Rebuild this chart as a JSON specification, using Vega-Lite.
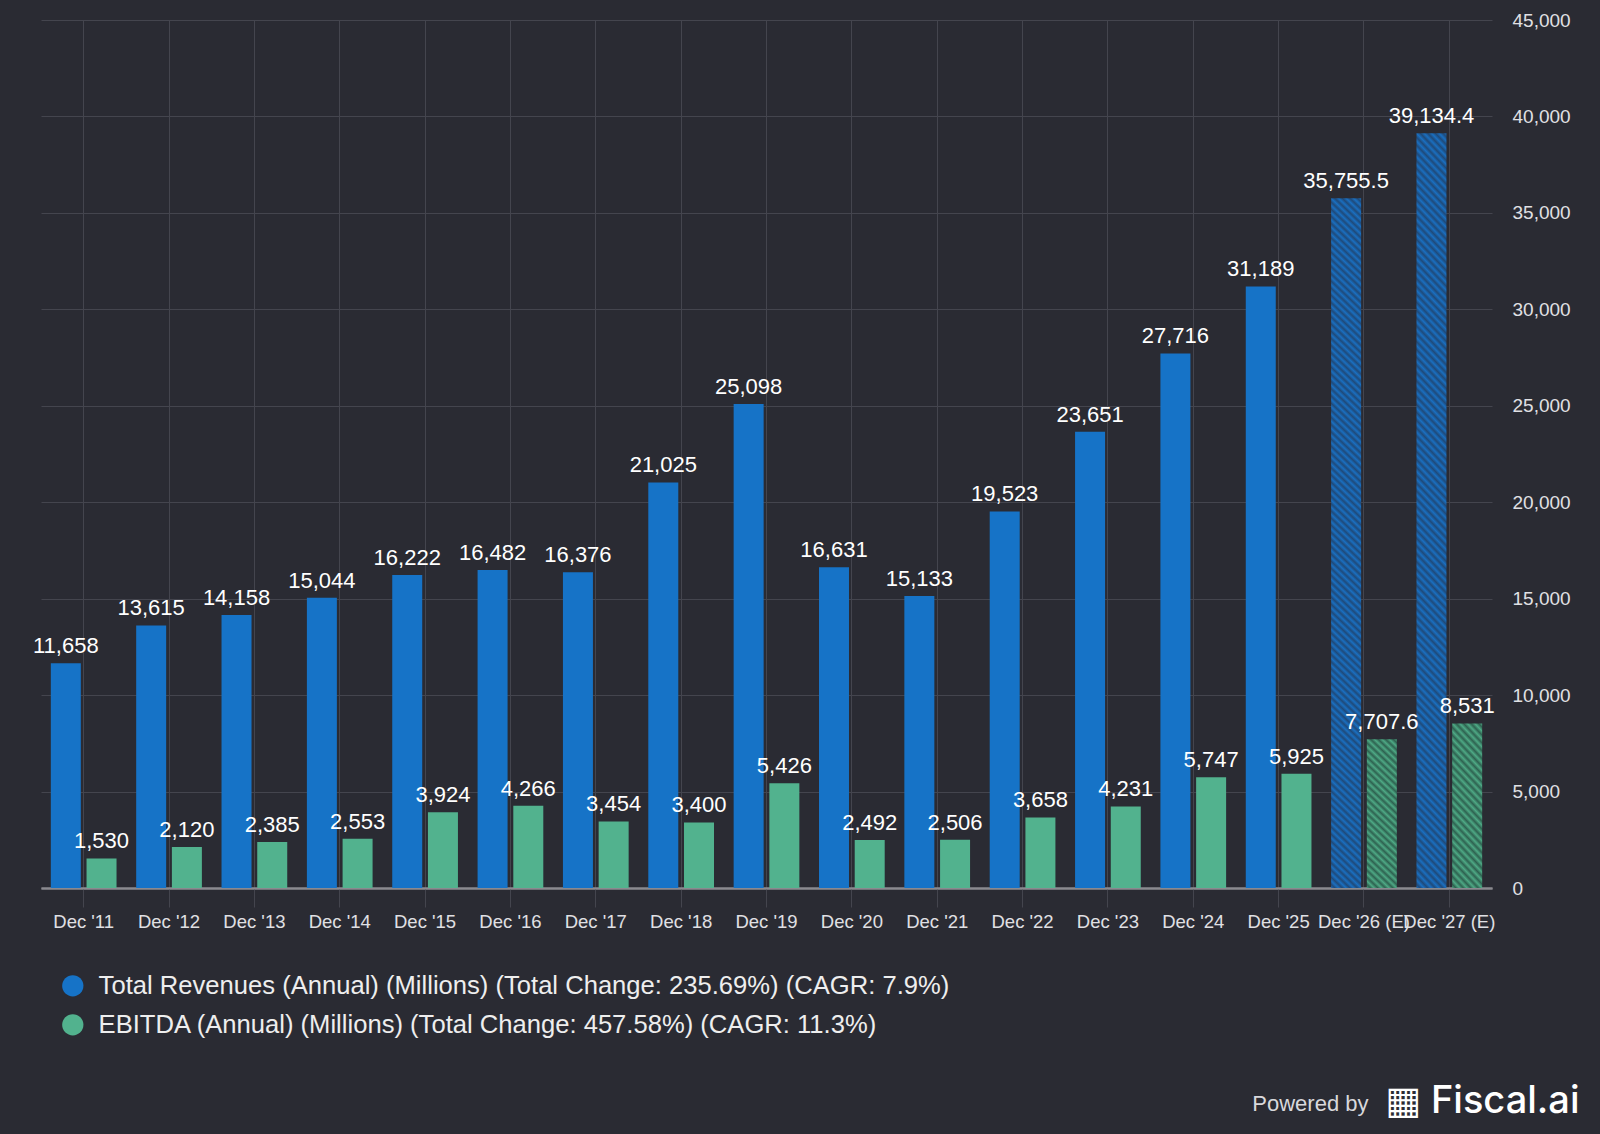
{
  "$schema": "https://vega.github.io/schema/vega-lite/v6.json",
  "width": 1451,
  "height": 868,
  "autosize": {"type": "none"},
  "padding": {"left": 41, "top": 20, "right": 108, "bottom": 246},
  "background": "#2a2b33",
  "config": {"view": {"stroke": null}, "font": "Liberation Sans"},
  "data": {
    "values": [
      {"period": "Dec '11", "series": "rev", "value": 11658, "estimate": false},
      {"period": "Dec '11", "series": "eb", "value": 1530, "estimate": false},
      {"period": "Dec '12", "series": "rev", "value": 13615, "estimate": false},
      {"period": "Dec '12", "series": "eb", "value": 2120, "estimate": false},
      {"period": "Dec '13", "series": "rev", "value": 14158, "estimate": false},
      {"period": "Dec '13", "series": "eb", "value": 2385, "estimate": false},
      {"period": "Dec '14", "series": "rev", "value": 15044, "estimate": false},
      {"period": "Dec '14", "series": "eb", "value": 2553, "estimate": false},
      {"period": "Dec '15", "series": "rev", "value": 16222, "estimate": false},
      {"period": "Dec '15", "series": "eb", "value": 3924, "estimate": false},
      {"period": "Dec '16", "series": "rev", "value": 16482, "estimate": false},
      {"period": "Dec '16", "series": "eb", "value": 4266, "estimate": false},
      {"period": "Dec '17", "series": "rev", "value": 16376, "estimate": false},
      {"period": "Dec '17", "series": "eb", "value": 3454, "estimate": false},
      {"period": "Dec '18", "series": "rev", "value": 21025, "estimate": false},
      {"period": "Dec '18", "series": "eb", "value": 3400, "estimate": false},
      {"period": "Dec '19", "series": "rev", "value": 25098, "estimate": false},
      {"period": "Dec '19", "series": "eb", "value": 5426, "estimate": false},
      {"period": "Dec '20", "series": "rev", "value": 16631, "estimate": false},
      {"period": "Dec '20", "series": "eb", "value": 2492, "estimate": false},
      {"period": "Dec '21", "series": "rev", "value": 15133, "estimate": false},
      {"period": "Dec '21", "series": "eb", "value": 2506, "estimate": false},
      {"period": "Dec '22", "series": "rev", "value": 19523, "estimate": false},
      {"period": "Dec '22", "series": "eb", "value": 3658, "estimate": false},
      {"period": "Dec '23", "series": "rev", "value": 23651, "estimate": false},
      {"period": "Dec '23", "series": "eb", "value": 4231, "estimate": false},
      {"period": "Dec '24", "series": "rev", "value": 27716, "estimate": false},
      {"period": "Dec '24", "series": "eb", "value": 5747, "estimate": false},
      {"period": "Dec '25", "series": "rev", "value": 31189, "estimate": false},
      {"period": "Dec '25", "series": "eb", "value": 5925, "estimate": false},
      {"period": "Dec '26 (E)", "series": "rev", "value": 35755.5, "estimate": true},
      {"period": "Dec '26 (E)", "series": "eb", "value": 7707.6, "estimate": true},
      {"period": "Dec '27 (E)", "series": "rev", "value": 39134.4, "estimate": true},
      {"period": "Dec '27 (E)", "series": "eb", "value": 8531, "estimate": true}
    ]
  },
  "encoding": {
    "x": {
      "field": "period",
      "type": "nominal",
      "sort": null,
      "scale": {"paddingInner": 0, "paddingOuter": 0},
      "axis": {
        "title": "▦ Fiscal.ai",
        "titleX": 1538,
        "titleY": 224,
        "titleAlign": "right",
        "titleBaseline": "alphabetic",
        "titleAngle": 0,
        "titleFont": "Inter, DejaVu Sans",
        "titleFontSize": 38,
        "titleFontWeight": 500,
        "titleColor": "#ffffff",
        "labelAngle": 0,
        "labelFontSize": 18.5,
        "labelColor": "#e0e0e4",
        "labelPadding": 5,
        "labelOverlap": false,
        "labelBound": false,
        "labelFlush": false,
        "labelLimit": 400,
        "grid": true,
        "gridColor": "#44454e",
        "gridWidth": 1,
        "ticks": true,
        "tickSize": 19,
        "tickColor": "#44454e",
        "domain": true,
        "domainColor": "#8a8a90",
        "domainWidth": 2,
        "bandPosition": 0.5
      }
    },
    "xOffset": {
      "field": "series",
      "type": "nominal",
      "sort": ["rev", "eb"],
      "scale": {"domain": ["rev", "eb"], "paddingInner": 0.16, "paddingOuter": 0.275}
    },
    "y": {
      "field": "value",
      "type": "quantitative",
      "scale": {"domain": [0, 45000], "nice": false, "zero": true},
      "axis": {
        "orient": "right",
        "values": [0, 5000, 10000, 15000, 20000, 25000, 30000, 35000, 40000, 45000],
        "format": ",.0f",
        "grid": true,
        "gridColor": {"condition": {"test": "datum.value === 0", "value": "#8a8a90"}, "value": "#44454e"},
        "gridWidth": {"condition": {"test": "datum.value === 0", "value": 2}, "value": 1},
        "domain": false,
        "ticks": false,
        "labelAlign": "left",
        "labelBaseline": "middle",
        "labelPadding": 20,
        "labelFontSize": 19,
        "labelColor": "#e0e0e4",
        "title": "Powered by",
        "titleAngle": 0,
        "titleX": -124,
        "titleY": 1090,
        "titleAlign": "right",
        "titleBaseline": "alphabetic",
        "titleFont": "Liberation Sans",
        "titleFontSize": 22,
        "titleFontWeight": "normal",
        "titleColor": "#d8d8dc"
      }
    }
  },
  "layer": [
    {
      "mark": {"type": "bar"},
      "encoding": {
        "color": {
          "condition": [
            {
              "test": "datum.estimate && datum.series === 'rev'",
              "value": {
                "gradient": "linear", "x1": 0, "y1": 1, "x2": 0.04319, "y2": -0.03975,
                "stops": [
                  {"offset":0,"color":"#1a6fc0"},{"offset":0.005,"color":"#1f4a7a"},{"offset":0.01,"color":"#1a6fc0"},{"offset":0.015,"color":"#1f4a7a"},{"offset":0.02,"color":"#1a6fc0"},{"offset":0.025,"color":"#1f4a7a"},{"offset":0.03,"color":"#1a6fc0"},{"offset":0.035,"color":"#1f4a7a"},{"offset":0.04,"color":"#1a6fc0"},{"offset":0.045,"color":"#1f4a7a"},
                  {"offset":0.05,"color":"#1a6fc0"},{"offset":0.055,"color":"#1f4a7a"},{"offset":0.06,"color":"#1a6fc0"},{"offset":0.065,"color":"#1f4a7a"},{"offset":0.07,"color":"#1a6fc0"},{"offset":0.075,"color":"#1f4a7a"},{"offset":0.08,"color":"#1a6fc0"},{"offset":0.085,"color":"#1f4a7a"},{"offset":0.09,"color":"#1a6fc0"},{"offset":0.095,"color":"#1f4a7a"},
                  {"offset":0.1,"color":"#1a6fc0"},{"offset":0.105,"color":"#1f4a7a"},{"offset":0.11,"color":"#1a6fc0"},{"offset":0.115,"color":"#1f4a7a"},{"offset":0.12,"color":"#1a6fc0"},{"offset":0.125,"color":"#1f4a7a"},{"offset":0.13,"color":"#1a6fc0"},{"offset":0.135,"color":"#1f4a7a"},{"offset":0.14,"color":"#1a6fc0"},{"offset":0.145,"color":"#1f4a7a"},
                  {"offset":0.15,"color":"#1a6fc0"},{"offset":0.155,"color":"#1f4a7a"},{"offset":0.16,"color":"#1a6fc0"},{"offset":0.165,"color":"#1f4a7a"},{"offset":0.17,"color":"#1a6fc0"},{"offset":0.175,"color":"#1f4a7a"},{"offset":0.18,"color":"#1a6fc0"},{"offset":0.185,"color":"#1f4a7a"},{"offset":0.19,"color":"#1a6fc0"},{"offset":0.195,"color":"#1f4a7a"},
                  {"offset":0.2,"color":"#1a6fc0"},{"offset":0.205,"color":"#1f4a7a"},{"offset":0.21,"color":"#1a6fc0"},{"offset":0.215,"color":"#1f4a7a"},{"offset":0.22,"color":"#1a6fc0"},{"offset":0.225,"color":"#1f4a7a"},{"offset":0.23,"color":"#1a6fc0"},{"offset":0.235,"color":"#1f4a7a"},{"offset":0.24,"color":"#1a6fc0"},{"offset":0.245,"color":"#1f4a7a"},
                  {"offset":0.25,"color":"#1a6fc0"},{"offset":0.255,"color":"#1f4a7a"},{"offset":0.26,"color":"#1a6fc0"},{"offset":0.265,"color":"#1f4a7a"},{"offset":0.27,"color":"#1a6fc0"},{"offset":0.275,"color":"#1f4a7a"},{"offset":0.28,"color":"#1a6fc0"},{"offset":0.285,"color":"#1f4a7a"},{"offset":0.29,"color":"#1a6fc0"},{"offset":0.295,"color":"#1f4a7a"},
                  {"offset":0.3,"color":"#1a6fc0"},{"offset":0.305,"color":"#1f4a7a"},{"offset":0.31,"color":"#1a6fc0"},{"offset":0.315,"color":"#1f4a7a"},{"offset":0.32,"color":"#1a6fc0"},{"offset":0.325,"color":"#1f4a7a"},{"offset":0.33,"color":"#1a6fc0"},{"offset":0.335,"color":"#1f4a7a"},{"offset":0.34,"color":"#1a6fc0"},{"offset":0.345,"color":"#1f4a7a"},
                  {"offset":0.35,"color":"#1a6fc0"},{"offset":0.355,"color":"#1f4a7a"},{"offset":0.36,"color":"#1a6fc0"},{"offset":0.365,"color":"#1f4a7a"},{"offset":0.37,"color":"#1a6fc0"},{"offset":0.375,"color":"#1f4a7a"},{"offset":0.38,"color":"#1a6fc0"},{"offset":0.385,"color":"#1f4a7a"},{"offset":0.39,"color":"#1a6fc0"},{"offset":0.395,"color":"#1f4a7a"},
                  {"offset":0.4,"color":"#1a6fc0"},{"offset":0.405,"color":"#1f4a7a"},{"offset":0.41,"color":"#1a6fc0"},{"offset":0.415,"color":"#1f4a7a"},{"offset":0.42,"color":"#1a6fc0"},{"offset":0.425,"color":"#1f4a7a"},{"offset":0.43,"color":"#1a6fc0"},{"offset":0.435,"color":"#1f4a7a"},{"offset":0.44,"color":"#1a6fc0"},{"offset":0.445,"color":"#1f4a7a"},
                  {"offset":0.45,"color":"#1a6fc0"},{"offset":0.455,"color":"#1f4a7a"},{"offset":0.46,"color":"#1a6fc0"},{"offset":0.465,"color":"#1f4a7a"},{"offset":0.47,"color":"#1a6fc0"},{"offset":0.475,"color":"#1f4a7a"},{"offset":0.48,"color":"#1a6fc0"},{"offset":0.485,"color":"#1f4a7a"},{"offset":0.49,"color":"#1a6fc0"},{"offset":0.495,"color":"#1f4a7a"},
                  {"offset":0.5,"color":"#1a6fc0"},{"offset":0.505,"color":"#1f4a7a"},{"offset":0.51,"color":"#1a6fc0"},{"offset":0.515,"color":"#1f4a7a"},{"offset":0.52,"color":"#1a6fc0"},{"offset":0.525,"color":"#1f4a7a"},{"offset":0.53,"color":"#1a6fc0"},{"offset":0.535,"color":"#1f4a7a"},{"offset":0.54,"color":"#1a6fc0"},{"offset":0.545,"color":"#1f4a7a"},
                  {"offset":0.55,"color":"#1a6fc0"},{"offset":0.555,"color":"#1f4a7a"},{"offset":0.56,"color":"#1a6fc0"},{"offset":0.565,"color":"#1f4a7a"},{"offset":0.57,"color":"#1a6fc0"},{"offset":0.575,"color":"#1f4a7a"},{"offset":0.58,"color":"#1a6fc0"},{"offset":0.585,"color":"#1f4a7a"},{"offset":0.59,"color":"#1a6fc0"},{"offset":0.595,"color":"#1f4a7a"},
                  {"offset":0.6,"color":"#1a6fc0"},{"offset":0.605,"color":"#1f4a7a"},{"offset":0.61,"color":"#1a6fc0"},{"offset":0.615,"color":"#1f4a7a"},{"offset":0.62,"color":"#1a6fc0"},{"offset":0.625,"color":"#1f4a7a"},{"offset":0.63,"color":"#1a6fc0"},{"offset":0.635,"color":"#1f4a7a"},{"offset":0.64,"color":"#1a6fc0"},{"offset":0.645,"color":"#1f4a7a"},
                  {"offset":0.65,"color":"#1a6fc0"},{"offset":0.655,"color":"#1f4a7a"},{"offset":0.66,"color":"#1a6fc0"},{"offset":0.665,"color":"#1f4a7a"},{"offset":0.67,"color":"#1a6fc0"},{"offset":0.675,"color":"#1f4a7a"},{"offset":0.68,"color":"#1a6fc0"},{"offset":0.685,"color":"#1f4a7a"},{"offset":0.69,"color":"#1a6fc0"},{"offset":0.695,"color":"#1f4a7a"},
                  {"offset":0.7,"color":"#1a6fc0"},{"offset":0.705,"color":"#1f4a7a"},{"offset":0.71,"color":"#1a6fc0"},{"offset":0.715,"color":"#1f4a7a"},{"offset":0.72,"color":"#1a6fc0"},{"offset":0.725,"color":"#1f4a7a"},{"offset":0.73,"color":"#1a6fc0"},{"offset":0.735,"color":"#1f4a7a"},{"offset":0.74,"color":"#1a6fc0"},{"offset":0.745,"color":"#1f4a7a"},
                  {"offset":0.75,"color":"#1a6fc0"},{"offset":0.755,"color":"#1f4a7a"},{"offset":0.76,"color":"#1a6fc0"},{"offset":0.765,"color":"#1f4a7a"},{"offset":0.77,"color":"#1a6fc0"},{"offset":0.775,"color":"#1f4a7a"},{"offset":0.78,"color":"#1a6fc0"},{"offset":0.785,"color":"#1f4a7a"},{"offset":0.79,"color":"#1a6fc0"},{"offset":0.795,"color":"#1f4a7a"},
                  {"offset":0.8,"color":"#1a6fc0"},{"offset":0.805,"color":"#1f4a7a"},{"offset":0.81,"color":"#1a6fc0"},{"offset":0.815,"color":"#1f4a7a"},{"offset":0.82,"color":"#1a6fc0"},{"offset":0.825,"color":"#1f4a7a"},{"offset":0.83,"color":"#1a6fc0"},{"offset":0.835,"color":"#1f4a7a"},{"offset":0.84,"color":"#1a6fc0"},{"offset":0.845,"color":"#1f4a7a"},
                  {"offset":0.85,"color":"#1a6fc0"},{"offset":0.855,"color":"#1f4a7a"},{"offset":0.86,"color":"#1a6fc0"},{"offset":0.865,"color":"#1f4a7a"},{"offset":0.87,"color":"#1a6fc0"},{"offset":0.875,"color":"#1f4a7a"},{"offset":0.88,"color":"#1a6fc0"},{"offset":0.885,"color":"#1f4a7a"},{"offset":0.89,"color":"#1a6fc0"},{"offset":0.895,"color":"#1f4a7a"},
                  {"offset":0.9,"color":"#1a6fc0"},{"offset":0.905,"color":"#1f4a7a"},{"offset":0.91,"color":"#1a6fc0"},{"offset":0.915,"color":"#1f4a7a"},{"offset":0.92,"color":"#1a6fc0"},{"offset":0.925,"color":"#1f4a7a"},{"offset":0.93,"color":"#1a6fc0"},{"offset":0.935,"color":"#1f4a7a"},{"offset":0.94,"color":"#1a6fc0"},{"offset":0.945,"color":"#1f4a7a"},
                  {"offset":0.95,"color":"#1a6fc0"},{"offset":0.955,"color":"#1f4a7a"},{"offset":0.96,"color":"#1a6fc0"},{"offset":0.965,"color":"#1f4a7a"},{"offset":0.97,"color":"#1a6fc0"},{"offset":0.975,"color":"#1f4a7a"},{"offset":0.98,"color":"#1a6fc0"},{"offset":0.985,"color":"#1f4a7a"},{"offset":0.99,"color":"#1a6fc0"},{"offset":0.995,"color":"#1f4a7a"},
                  {"offset":1,"color":"#1a6fc0"}
                ]
              }
            },
            {
              "test": "datum.estimate && datum.series === 'eb'",
              "value": {
                "gradient": "linear", "x1": 0, "y1": 1, "x2": 0.2202, "y2": -0.1494,
                "stops": [
                  {"offset":0,"color":"#4ea985"},{"offset":0.02,"color":"#2e6250"},{"offset":0.04,"color":"#4ea985"},{"offset":0.06,"color":"#2e6250"},{"offset":0.08,"color":"#4ea985"},{"offset":0.1,"color":"#2e6250"},{"offset":0.12,"color":"#4ea985"},{"offset":0.14,"color":"#2e6250"},{"offset":0.16,"color":"#4ea985"},{"offset":0.18,"color":"#2e6250"},
                  {"offset":0.2,"color":"#4ea985"},{"offset":0.22,"color":"#2e6250"},{"offset":0.24,"color":"#4ea985"},{"offset":0.26,"color":"#2e6250"},{"offset":0.28,"color":"#4ea985"},{"offset":0.3,"color":"#2e6250"},{"offset":0.32,"color":"#4ea985"},{"offset":0.34,"color":"#2e6250"},{"offset":0.36,"color":"#4ea985"},{"offset":0.38,"color":"#2e6250"},
                  {"offset":0.4,"color":"#4ea985"},{"offset":0.42,"color":"#2e6250"},{"offset":0.44,"color":"#4ea985"},{"offset":0.46,"color":"#2e6250"},{"offset":0.48,"color":"#4ea985"},{"offset":0.5,"color":"#2e6250"},{"offset":0.52,"color":"#4ea985"},{"offset":0.54,"color":"#2e6250"},{"offset":0.56,"color":"#4ea985"},{"offset":0.58,"color":"#2e6250"},
                  {"offset":0.6,"color":"#4ea985"},{"offset":0.62,"color":"#2e6250"},{"offset":0.64,"color":"#4ea985"},{"offset":0.66,"color":"#2e6250"},{"offset":0.68,"color":"#4ea985"},{"offset":0.7,"color":"#2e6250"},{"offset":0.72,"color":"#4ea985"},{"offset":0.74,"color":"#2e6250"},{"offset":0.76,"color":"#4ea985"},{"offset":0.78,"color":"#2e6250"},
                  {"offset":0.8,"color":"#4ea985"},{"offset":0.82,"color":"#2e6250"},{"offset":0.84,"color":"#4ea985"},{"offset":0.86,"color":"#2e6250"},{"offset":0.88,"color":"#4ea985"},{"offset":0.9,"color":"#2e6250"},{"offset":0.92,"color":"#4ea985"},{"offset":0.94,"color":"#2e6250"},{"offset":0.96,"color":"#4ea985"},{"offset":0.98,"color":"#2e6250"},
                  {"offset":1,"color":"#4ea985"}
                ]
              }
            }
          ],
          "field": "series",
          "type": "nominal",
          "scale": {"domain": ["rev", "eb"], "range": ["#1673c7", "#52b28e"]},
          "legend": {
            "title": null,
            "orient": "none",
            "legendX": 19,
            "legendY": 953,
            "direction": "vertical",
            "padding": 0,
            "symbolType": "circle",
            "symbolSize": 452,
            "symbolStrokeWidth": 0,
            "symbolOpacity": 1,
            "labelFont": "Liberation Sans",
            "labelFontSize": 25.6,
            "labelColor": "#eeeeee",
            "labelOffset": 13,
            "labelLimit": 1200,
            "rowPadding": 12,
            "labelExpr": "datum.value === 'rev' ? 'Total Revenues (Annual) (Millions) (Total Change: 235.69%) (CAGR: 7.9%)' : 'EBITDA (Annual) (Millions) (Total Change: 457.58%) (CAGR: 11.3%)'"
          }
        }
      }
    },
    {
      "mark": {"type": "text", "baseline": "alphabetic", "dy": -10, "fontSize": 22, "color": "#ffffff", "font": "Liberation Sans"},
      "encoding": {
        "text": {"field": "value", "type": "quantitative", "format": ","}
      }
    }
  ]
}
